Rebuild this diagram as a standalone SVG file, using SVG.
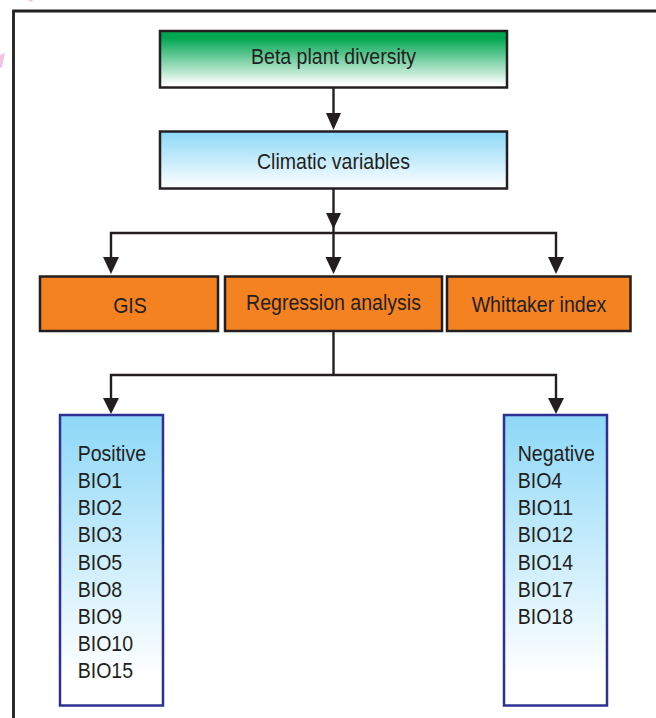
<svg xmlns="http://www.w3.org/2000/svg" width="656" height="718" viewBox="0 0 656 718">
  <defs>
    <linearGradient id="gGreen" x1="0" y1="0" x2="0" y2="1">
      <stop offset="0" stop-color="#00a651"/>
      <stop offset="0.12" stop-color="#00a651"/>
      <stop offset="0.95" stop-color="#ffffff"/>
    </linearGradient>
    <linearGradient id="gBlue" x1="0" y1="0" x2="0" y2="1">
      <stop offset="0" stop-color="#8dd8f8"/>
      <stop offset="1" stop-color="#ffffff"/>
    </linearGradient>
    <linearGradient id="gBlueTall" x1="0" y1="0" x2="0" y2="1">
      <stop offset="0" stop-color="#8dd8f8"/>
      <stop offset="0.9" stop-color="#ffffff"/>
      <stop offset="1" stop-color="#ffffff"/>
    </linearGradient>
    <style>
      .box { stroke: #231f20; stroke-width: 2.5; }
      .orange { fill: #f58220; stroke: #231f20; stroke-width: 2.5; }
      .list { fill: url(#gBlueTall); stroke: #2e3192; stroke-width: 2.5; }
      .t { font-family: "Liberation Sans", Arial, sans-serif; font-size: 22px; fill: #231f20; }
      .c { text-anchor: middle; }
      .ln { fill: none; stroke: #231f20; stroke-width: 2.4; stroke-linejoin: miter; }
      .ah { fill: #231f20; stroke: none; }
    </style>
  </defs>
  <rect width="656" height="718" fill="#ffffff"/>
  <polygon points="0,55 5,53 2,67 0,68" fill="#f3c3e6"/>
  <polygon points="28,0 33,0 31,2" fill="#f3c3e6"/>
  <path d="M13.5,718 L13.5,11 L656,11" fill="none" stroke="#231f20" stroke-width="2.8"/>

  <g id="connectors">
    <path class="ln" d="M333.5,88 L333.5,115"/>
    <polygon class="ah" points="326,113 341,113 333.5,130"/>
    <path class="ln" d="M333.5,189 L333.5,233"/>
    <polygon class="ah" points="326,213 341,213 333.5,229"/>
    <path class="ln" d="M111,260 L111,233 L556,233 L556,260"/>
    <path class="ln" d="M333.5,233 L333.5,260"/>
    <polygon class="ah" points="103,257 119,257 111,274"/>
    <polygon class="ah" points="325.5,257 341.5,257 333.5,274"/>
    <polygon class="ah" points="548,257 564,257 556,274"/>
    <path class="ln" d="M333.5,331 L333.5,375"/>
    <path class="ln" d="M111,400 L111,375 L556,375 L556,400"/>
    <polygon class="ah" points="103,398 119,398 111,414"/>
    <polygon class="ah" points="548,398 564,398 556,414"/>
  </g>

  <g id="beta">
    <rect class="box" x="160" y="31" width="347" height="56.5" fill="url(#gGreen)"/>
    <text class="t c" x="333.5" y="64.3" textLength="165" lengthAdjust="spacingAndGlyphs">Beta plant diversity</text>
  </g>
  <g id="climatic">
    <rect class="box" x="160" y="131.5" width="347" height="57" fill="url(#gBlue)"/>
    <text class="t c" x="333.5" y="169" textLength="153" lengthAdjust="spacingAndGlyphs">Climatic variables</text>
  </g>
  <g id="gis">
    <rect class="orange" x="40" y="276.5" width="178" height="54.5"/>
    <text class="t c" x="130" y="312.5" textLength="33.7" lengthAdjust="spacingAndGlyphs">GIS</text>
  </g>
  <g id="regression">
    <rect class="orange" x="225" y="276.5" width="217" height="54.5"/>
    <text class="t c" x="333.5" y="310" textLength="174.8" lengthAdjust="spacingAndGlyphs">Regression analysis</text>
  </g>
  <g id="whittaker">
    <rect class="orange" x="447" y="276.5" width="183.5" height="54.5"/>
    <text class="t c" x="539" y="312" textLength="134.7" lengthAdjust="spacingAndGlyphs">Whittaker index</text>
  </g>
  <g id="positive">
    <rect class="list" x="60" y="415" width="103" height="290.5"/>
    <text class="t" x="77.7" y="460.7" textLength="68.4" lengthAdjust="spacingAndGlyphs">Positive</text>
    <text class="t" x="77.7" y="487.9" textLength="44.5" lengthAdjust="spacingAndGlyphs">BIO1</text>
    <text class="t" x="77.7" y="515.1" textLength="44.5" lengthAdjust="spacingAndGlyphs">BIO2</text>
    <text class="t" x="77.7" y="542.3" textLength="44.5" lengthAdjust="spacingAndGlyphs">BIO3</text>
    <text class="t" x="77.7" y="569.5" textLength="44.5" lengthAdjust="spacingAndGlyphs">BIO5</text>
    <text class="t" x="77.7" y="596.7" textLength="44.5" lengthAdjust="spacingAndGlyphs">BIO8</text>
    <text class="t" x="77.7" y="623.9" textLength="44.5" lengthAdjust="spacingAndGlyphs">BIO9</text>
    <text class="t" x="77.7" y="651.1" textLength="55.4" lengthAdjust="spacingAndGlyphs">BIO10</text>
    <text class="t" x="77.7" y="678.3" textLength="55.4" lengthAdjust="spacingAndGlyphs">BIO15</text>
  </g>
  <g id="negative">
    <rect class="list" x="504" y="415" width="103" height="290.5"/>
    <text class="t" x="517.7" y="460.7" textLength="77.1" lengthAdjust="spacingAndGlyphs">Negative</text>
    <text class="t" x="517.7" y="487.9" textLength="44.5" lengthAdjust="spacingAndGlyphs">BIO4</text>
    <text class="t" x="517.7" y="515.1" textLength="55.4" lengthAdjust="spacingAndGlyphs">BIO11</text>
    <text class="t" x="517.7" y="542.3" textLength="55.4" lengthAdjust="spacingAndGlyphs">BIO12</text>
    <text class="t" x="517.7" y="569.5" textLength="55.4" lengthAdjust="spacingAndGlyphs">BIO14</text>
    <text class="t" x="517.7" y="596.7" textLength="55.4" lengthAdjust="spacingAndGlyphs">BIO17</text>
    <text class="t" x="517.7" y="623.9" textLength="55.4" lengthAdjust="spacingAndGlyphs">BIO18</text>
  </g>
</svg>
